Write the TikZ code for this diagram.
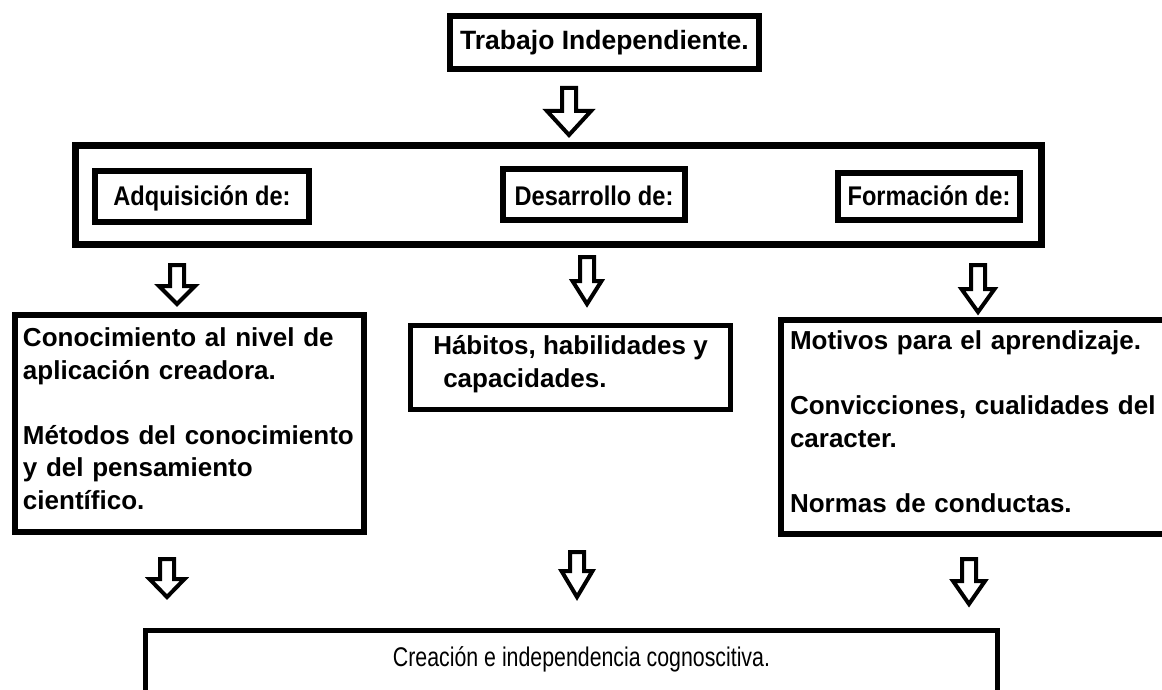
\documentclass[tikz,border=0pt]{standalone}
\usepackage{fontspec}
\setmainfont{Liberation Sans}
\newfontfamily\narrowfont[FakeStretch=0.79]{Liberation Sans}
\newfontfamily\headfam[FakeStretch=0.875]{Liberation Sans}
\newcommand{\bdown}[6]{%
  \coordinate (#1) at (#2,#3);
  \draw[blk] ({#2-7},#3) -- ({#2+7},#3) -- ({#2+7},#4) -- ({#2+#6},#4) -- (#2,#5) -- ({#2-#6},#4) -- ({#2-7},#4) -- cycle;}
\begin{document}
\begin{tikzpicture}[x=1pt,y=-1pt,
  box/.style={draw=black, line width=6pt, rectangle, inner sep=0pt, fill=white},
  blk/.style={draw=black, line width=4pt, fill=white, line join=miter},
  headfont/.style={font=\headfam\fontsize{27}{32}\selectfont\bfseries},
  bodyfont/.style={font=\fontsize{26}{32.5}\selectfont\bfseries}]
\useasboundingbox (0,0) rectangle (1162,690);
\fill[white] (0,0) rectangle (1162,690);
% top
\node[box, minimum width=309pt, minimum height=53pt, font=\fontsize{26.5}{32}\selectfont\bfseries, text height=19pt, text depth=5.5pt] (top) at (604.5,42.5) {Trabajo Independiente.};
% main frame and headers
\node[box, line width=7pt, minimum width=966pt, minimum height=99pt] (main) at (558.5,195) {};
\node[box, headfont, text height=21pt, text depth=4pt, minimum width=214pt, minimum height=51pt] (hA) at (202,196.5) {Adquisición de:};
\node[box, headfont, text height=24pt, text depth=3pt, minimum width=182pt, minimum height=51pt] (hD) at (594,194.5) {Desarrollo de:};
\node[box, headfont, text height=21pt, text depth=4pt, minimum width=182pt, minimum height=47pt] (hF) at (929,196.5) {Formación de:};
% body boxes
\node[box, bodyfont, minimum width=349pt, minimum height=217pt, align=left, text width=333pt] (bA) at (189.5,423.5)
  {Conocimiento al nivel de\\aplicación creadora.\\[32.5pt]Métodos del conocimiento\\y del pensamiento\\científico.\rule[-9.5pt]{0pt}{9.5pt}};
\node[box, bodyfont, line width=5pt, minimum width=320pt, minimum height=84pt, align=left] (bD) at (570.5,367.5)
  {Hábitos, habilidades y\\\hspace*{10pt}capacidades.\rule[-12pt]{0pt}{12pt}};
\node[box, bodyfont, minimum width=399pt, minimum height=214pt, align=left, text width=381pt] (bF) at (980.5,427)
  {Motivos para el aprendizaje.\\[32.5pt]Convicciones, cualidades del\\caracter.\\[32.5pt]Normas de conductas.\rule[-10.5pt]{0pt}{10.5pt}};
% final
\node[box, line width=5pt, minimum width=852pt, minimum height=89.5pt, font=\narrowfont\fontsize{27}{32}\selectfont, text height=19pt, text depth=37pt] (final) at (571.5,675.25)
  {\hspace*{20pt}Creación e independencia cognoscitiva.};
% block arrows
\bdown{a0}{569}{88}{111}{135}{22}
\bdown{a1}{177}{265}{286}{304}{18}
\bdown{a2}{587}{257}{281}{304}{14.5}
\bdown{a3}{978}{265}{289}{312}{16.5}
\bdown{a4}{167}{559}{579}{597}{17.5}
\bdown{a5}{577}{552}{571}{597}{15.5}
\bdown{a6}{969}{559}{581}{604}{16}
\end{tikzpicture}
\end{document}
